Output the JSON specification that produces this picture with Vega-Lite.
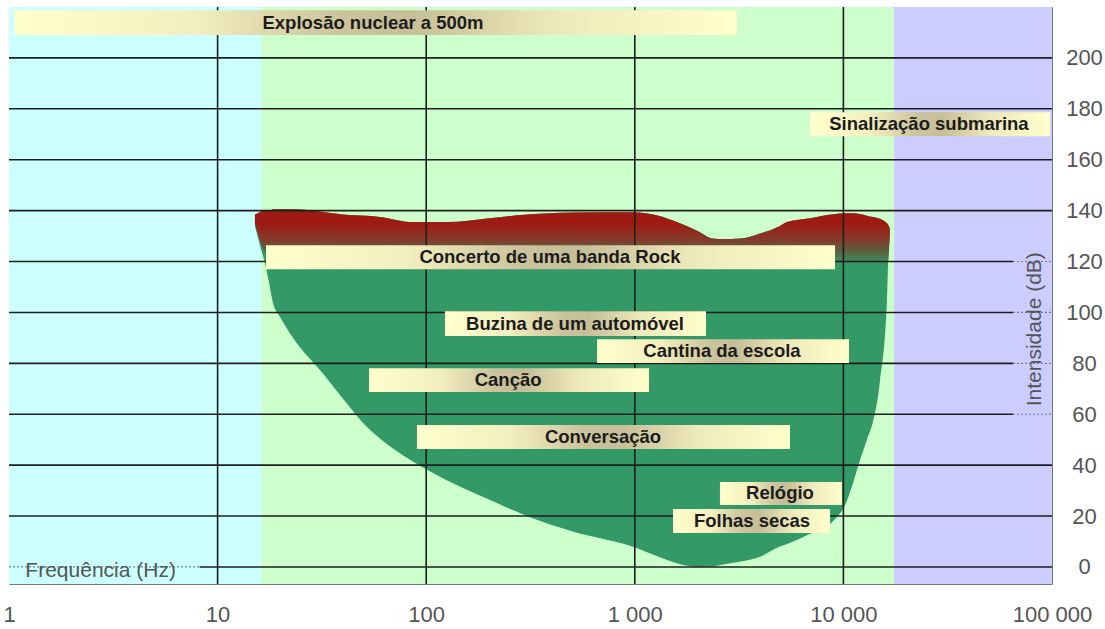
{
  "$schema": "https://vega.github.io/schema/vega-lite/v6.json",
  "width": 1043,
  "height": 577,
  "autosize": {"type": "none"},
  "padding": {"left": 9, "top": 7, "right": 53, "bottom": 45},
  "background": "#ffffff",
  "config": {
    "view": {"stroke": "#777777", "strokeWidth": 1},
    "axis": {"labelFont": "Liberation Sans", "labelColor": "#555555", "labelFontSize": 22, "domain": false, "ticks": false, "grid": false, "tickSize": 0, "title": null}
  },
  "datasets": {
    "curve": [
      {"f": 15.1, "thresh": 134, "top": 138.5, "band": 135},
      {"f": 16.0, "thresh": 126, "top": 139.5, "band": 128},
      {"f": 16.9, "thresh": 119, "top": 140, "band": 124},
      {"f": 17.8, "thresh": 110, "top": 140, "band": 124},
      {"f": 18.4, "thresh": 104, "top": 140.5, "band": 124},
      {"f": 20, "thresh": 98, "top": 140.5, "band": 124},
      {"f": 23, "thresh": 90, "top": 140.5, "band": 124},
      {"f": 32, "thresh": 76, "top": 139.5, "band": 124},
      {"f": 40, "thresh": 66, "top": 138.5, "band": 124},
      {"f": 52, "thresh": 55, "top": 138, "band": 124},
      {"f": 60, "thresh": 50.5, "top": 137.5, "band": 124},
      {"f": 86, "thresh": 41.5, "top": 135.5, "band": 124},
      {"f": 126, "thresh": 34, "top": 135.5, "band": 124},
      {"f": 200, "thresh": 26.5, "top": 137, "band": 124},
      {"f": 304, "thresh": 20, "top": 138.5, "band": 124},
      {"f": 500, "thresh": 14, "top": 139.3, "band": 124},
      {"f": 980, "thresh": 7.9, "top": 139.4, "band": 124},
      {"f": 1300, "thresh": 4, "top": 138, "band": 124},
      {"f": 1593, "thresh": 1.5, "top": 135.5, "band": 124},
      {"f": 2000, "thresh": 0, "top": 132, "band": 123},
      {"f": 2370, "thresh": 0.3, "top": 129, "band": 122},
      {"f": 2650, "thresh": 1, "top": 128.8, "band": 122},
      {"f": 3192, "thresh": 2, "top": 129, "band": 122},
      {"f": 3981, "thresh": 4, "top": 131, "band": 122},
      {"f": 4966, "thresh": 8, "top": 134, "band": 121},
      {"f": 5370, "thresh": 9, "top": 135.5, "band": 121},
      {"f": 6918, "thresh": 13, "top": 137, "band": 120},
      {"f": 8913, "thresh": 18, "top": 138.6, "band": 119},
      {"f": 10400, "thresh": 26, "top": 139, "band": 119},
      {"f": 11120, "thresh": 33, "top": 139, "band": 119},
      {"f": 12020, "thresh": 42, "top": 138.7, "band": 119},
      {"f": 12970, "thresh": 50, "top": 138, "band": 119},
      {"f": 13860, "thresh": 57, "top": 137.5, "band": 119},
      {"f": 14970, "thresh": 73, "top": 136.8, "band": 119},
      {"f": 16180, "thresh": 105, "top": 135, "band": 119},
      {"f": 16370, "thresh": 119, "top": 134.5, "band": 120},
      {"f": 16700, "thresh": 130, "top": 133, "band": 130}
    ],
    "labels": [
      {"label": "Explosão nuclear a 500m", "x0": 1.06, "x1": 3090, "xc": 55.6, "y0": 209, "y1": 218.7, "yc": 213.9},
      {"label": "Sinalização submarina", "x0": 6918, "x1": 97800, "xc": 25700, "y0": 169.2, "y1": 178.6, "yc": 173.9},
      {"label": "Concerto de uma banda Rock", "x0": 17.06, "x1": 9120, "xc": 392, "y0": 117, "y1": 126.4, "yc": 121.7},
      {"label": "Buzina de um automóvel", "x0": 123, "x1": 2195, "xc": 517, "y0": 90.7, "y1": 100.5, "yc": 95.6},
      {"label": "Cantina da escola", "x0": 659, "x1": 10640, "xc": 2618, "y0": 80.1, "y1": 89.5, "yc": 84.8},
      {"label": "Canção", "x0": 53.2, "x1": 1170, "xc": 247, "y0": 68.7, "y1": 78.1, "yc": 73.4},
      {"label": "Conversação", "x0": 90.3, "x1": 5546, "xc": 704, "y0": 46.3, "y1": 55.8, "yc": 51},
      {"label": "Relógio", "x0": 2560, "x1": 9840, "xc": 4966, "y0": 24.3, "y1": 33.4, "yc": 28.9},
      {"label": "Folhas secas", "x0": 1525, "x1": 8630, "xc": 3648, "y0": 13.3, "y1": 22.8, "yc": 18}
    ]
  },
  "layer": [
    {
      "data": {"values": [
        {"zone": "infra", "b0": 1, "b1": 16.2},
        {"zone": "audible", "b0": 16.2, "b1": 17500},
        {"zone": "ultra", "b0": 17500, "b1": 100000}
      ]},
      "mark": {"type": "rect"},
      "encoding": {
        "x": {"field": "b0", "type": "quantitative", "title": null, "scale": {"type": "log", "domain": [1, 100000], "nice": false},
          "axis": {"orient": "bottom", "values": [1, 10, 100, 1000, 10000, 100000], "labelExpr": "datum.value == 1000 ? '1 000' : datum.value == 10000 ? '10 000' : datum.value == 100000 ? '100 000' : format(datum.value, 'd')", "labelPadding": 30, "labelBaseline": "middle", "labelAlign": "center", "labelFlush": false, "labelOverlap": false, "labelBound": false, "labelFontSize": 22, "grid": false, "ticks": false, "domain": false}},
        "x2": {"field": "b1"},
        "y": {"datum": -6.7, "type": "quantitative", "title": null, "scale": {"domain": [-6.7, 220], "nice": false, "zero": false},
          "axis": {"orient": "right", "values": [0, 20, 40, 60, 80, 100, 120, 140, 160, 180, 200], "labelAlign": "center", "labelPadding": 32, "labelBaseline": "middle", "labelFontSize": 22, "labelOverlap": false, "labelBound": false, "labelFlush": false, "grid": false, "ticks": false, "domain": false}},
        "y2": {"datum": 220},
        "color": {"field": "zone", "type": "nominal", "scale": {"domain": ["infra", "audible", "ultra"], "range": ["#ccffff", "#ccffcc", "#ccccff"]}, "legend": null}
      }
    },
    {
      "data": {"name": "curve"},
      "mark": {"type": "area", "color": "#339966", "interpolate": "monotone"},
      "encoding": {
        "x": {"field": "f", "type": "quantitative", "title": null, "scale": {"type": "log", "domain": [1, 100000], "nice": false}},
        "y": {"field": "thresh", "type": "quantitative", "title": null, "scale": {"domain": [-6.7, 220], "nice": false, "zero": false}},
        "y2": {"field": "top"}
      }
    },
    {
      "data": {"name": "curve"},
      "mark": {"type": "area", "interpolate": "monotone",
        "fill": {"gradient": "linear", "x1": 0, "y1": 0, "x2": 0, "y2": 1, "stops": [
          {"offset": 0, "color": "#9e1a12"},
          {"offset": 0.25, "color": "#9e1a12"},
          {"offset": 0.55, "color": "#84392a"},
          {"offset": 0.78, "color": "#5a6442"},
          {"offset": 1, "color": "#339966"}
        ]}},
      "encoding": {
        "x": {"field": "f", "type": "quantitative", "title": null, "scale": {"type": "log", "domain": [1, 100000], "nice": false}},
        "y": {"field": "band", "type": "quantitative", "title": null, "scale": {"domain": [-6.7, 220], "nice": false, "zero": false}},
        "y2": {"field": "top"}
      }
    },
    {
      "data": {"values": [
        {"gy": 0, "gx0": 8.2, "gx1": 100000},
        {"gy": 20, "gx0": 1, "gx1": 100000},
        {"gy": 40, "gx0": 1, "gx1": 100000},
        {"gy": 60, "gx0": 1, "gx1": 65000},
        {"gy": 80, "gx0": 1, "gx1": 65000},
        {"gy": 100, "gx0": 1, "gx1": 65000},
        {"gy": 120, "gx0": 1, "gx1": 65000},
        {"gy": 140, "gx0": 1, "gx1": 100000},
        {"gy": 160, "gx0": 1, "gx1": 100000},
        {"gy": 180, "gx0": 1, "gx1": 100000},
        {"gy": 200, "gx0": 1, "gx1": 100000}
      ]},
      "mark": {"type": "rule", "stroke": "#1e1e1e", "strokeWidth": 1.6},
      "encoding": {
        "x": {"field": "gx0", "type": "quantitative", "title": null, "scale": {"type": "log", "domain": [1, 100000], "nice": false}},
        "x2": {"field": "gx1"},
        "y": {"field": "gy", "type": "quantitative", "title": null, "scale": {"domain": [-6.7, 220], "nice": false, "zero": false}}
      }
    },
    {
      "data": {"values": [
        {"gy": 0, "gx0": 1, "gx1": 8.2},
        {"gy": 60, "gx0": 65000, "gx1": 100000},
        {"gy": 80, "gx0": 65000, "gx1": 100000},
        {"gy": 100, "gx0": 65000, "gx1": 100000},
        {"gy": 120, "gx0": 65000, "gx1": 100000}
      ]},
      "mark": {"type": "rule", "stroke": "#7a7a7a", "strokeWidth": 1.2, "strokeDash": [2, 2]},
      "encoding": {
        "x": {"field": "gx0", "type": "quantitative", "title": null, "scale": {"type": "log", "domain": [1, 100000], "nice": false}},
        "x2": {"field": "gx1"},
        "y": {"field": "gy", "type": "quantitative", "title": null, "scale": {"domain": [-6.7, 220], "nice": false, "zero": false}}
      }
    },
    {
      "data": {"values": [{"gx": 10}, {"gx": 100}, {"gx": 1000}, {"gx": 10000}]},
      "mark": {"type": "rule", "stroke": "#1e1e1e", "strokeWidth": 1.6},
      "encoding": {
        "x": {"field": "gx", "type": "quantitative", "title": null, "scale": {"type": "log", "domain": [1, 100000], "nice": false}}
      }
    },
    {
      "data": {"name": "labels"},
      "mark": {"type": "rect",
        "fill": {"gradient": "linear", "x1": 0, "y1": 0, "x2": 1, "y2": 0, "stops": [
          {"offset": 0, "color": "#ffffcc"},
          {"offset": 0.25, "color": "#f3eebf"},
          {"offset": 0.45, "color": "#cbc39c"},
          {"offset": 0.55, "color": "#c6be97"},
          {"offset": 0.75, "color": "#eee9ba"},
          {"offset": 1, "color": "#ffffcc"}
        ]}},
      "encoding": {
        "x": {"field": "x0", "type": "quantitative", "title": null, "scale": {"type": "log", "domain": [1, 100000], "nice": false}},
        "x2": {"field": "x1"},
        "y": {"field": "y0", "type": "quantitative", "title": null, "scale": {"domain": [-6.7, 220], "nice": false, "zero": false}},
        "y2": {"field": "y1"}
      }
    },
    {
      "data": {"name": "labels"},
      "mark": {"type": "text", "font": "Liberation Sans", "fontWeight": "bold", "fontSize": 18.5, "color": "#1c1c1c", "align": "center", "baseline": "middle"},
      "encoding": {
        "x": {"field": "xc", "type": "quantitative", "title": null, "scale": {"type": "log", "domain": [1, 100000], "nice": false}},
        "y": {"field": "yc", "type": "quantitative", "title": null, "scale": {"domain": [-6.7, 220], "nice": false, "zero": false}},
        "text": {"field": "label"}
      }
    },
    {
      "data": {"values": [{"t": "Frequência (Hz)", "tx": 2.75, "ty": -1.5}]},
      "mark": {"type": "text", "font": "Liberation Sans", "fontSize": 21, "color": "#555555", "align": "center", "baseline": "middle"},
      "encoding": {
        "x": {"field": "tx", "type": "quantitative", "title": null, "scale": {"type": "log", "domain": [1, 100000], "nice": false}},
        "y": {"field": "ty", "type": "quantitative", "title": null, "scale": {"domain": [-6.7, 220], "nice": false, "zero": false}},
        "text": {"field": "t"}
      }
    },
    {
      "data": {"values": [{"t": "Intensidade (dB)", "tx": 82900, "ty": 93.4}]},
      "mark": {"type": "text", "font": "Liberation Sans", "fontSize": 21, "color": "#555555", "align": "center", "baseline": "middle", "angle": 270},
      "encoding": {
        "x": {"field": "tx", "type": "quantitative", "title": null, "scale": {"type": "log", "domain": [1, 100000], "nice": false}},
        "y": {"field": "ty", "type": "quantitative", "title": null, "scale": {"domain": [-6.7, 220], "nice": false, "zero": false}},
        "text": {"field": "t"}
      }
    }
  ],
  "resolve": {"scale": {"color": "independent"}}
}
